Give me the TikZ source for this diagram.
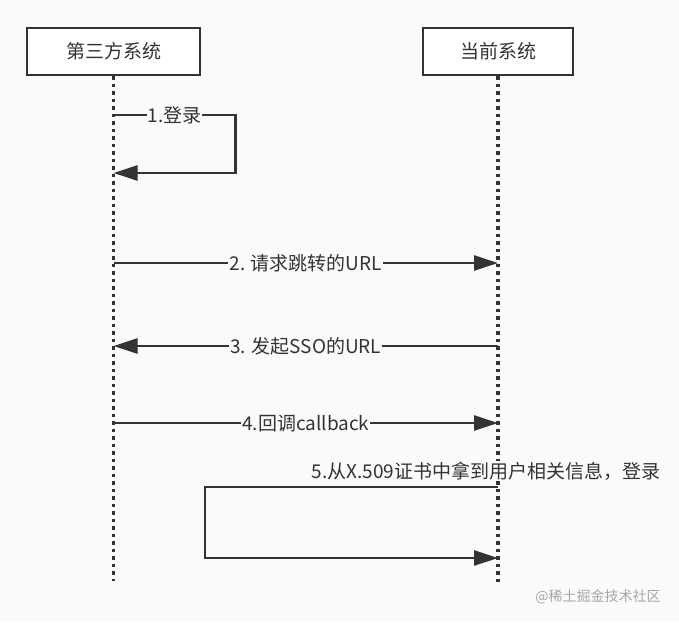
\documentclass[tikz,border=0pt]{standalone}
\usepackage{fontspec}
\setmainfont{Noto Sans CJK SC}
\usetikzlibrary{arrows.meta,positioning}
\definecolor{bgcolor}{HTML}{FAFAFA}
\definecolor{linecolor}{HTML}{333333}

\begin{document}
\begin{tikzpicture}[x=1pt,y=-1pt,
		actor/.style={draw=linecolor, line width=2.6pt, fill=white, minimum width=173pt, minimum height=47pt, inner sep=0pt, font=\fontsize{19}{22}\selectfont, text=linecolor},
		lifeline/.style={draw=linecolor, line width=3.2pt, dash pattern=on 3.5pt off 4pt},
		msg/.style={draw=linecolor, line width=2.6pt, -{Triangle[length=24pt,width=15pt]}},
		lbl/.style={fill=bgcolor, inner sep=1pt, font=\fontsize{19}{22}\selectfont, text=linecolor}]
		\fill[bgcolor] (0,0) rectangle (679,622);
		\useasboundingbox (0,0) rectangle (679,622);
		\node[actor] (third) at (113.5,51.5) {第三方系统};
		\node[actor, minimum width=150pt] (cur) at (498,51.5) {当前系统};
		\coordinate (thirdend) at (113.5,581);
		\coordinate (curend) at (498,582);
		\draw[lifeline] (third) -- (thirdend);
		\draw[lifeline] (cur) -- (curend);
		% 1
		\coordinate (m1a) at (113.5,115);
		\coordinate (m1b) at (113.5,173);
		\draw[msg] (m1a) -- node[lbl] {1.登录} ++(122,0) |- (m1b);
		% 2 - 4
		\foreach \n/\y/\txt in {2/263/2. 请求跳转的URL, 3/346/3. 发起SSO的URL, 4/423/4.回调callback}
		{
			\coordinate (l\n) at (third |- 0,\y);
			\coordinate (r\n) at (cur |- 0,\y);
		}
		\draw[msg] (l2) -- node[lbl] {2. 请求跳转的URL} (r2);
		\draw[msg] (r3) -- node[lbl] {3. 发起SSO的URL} (l3);
		\draw[msg] (l4) -- node[lbl] {4.回调callback} (r4);
		% 5
		\coordinate (m5a) at (498,487);
		\coordinate (m5b) at (498,558);
		\draw[msg] (m5a) -- ++(-293,0) |- (m5b);
		\node[lbl] (m5txt) at (486,471) {5.从X.509证书中拿到用户相关信息，登录};
		\node[font=\fontsize{14}{16}\selectfont, text=gray!70] (mark) at (598,597) {@稀土掘金技术社区};
	\end{tikzpicture}
\end{document}
